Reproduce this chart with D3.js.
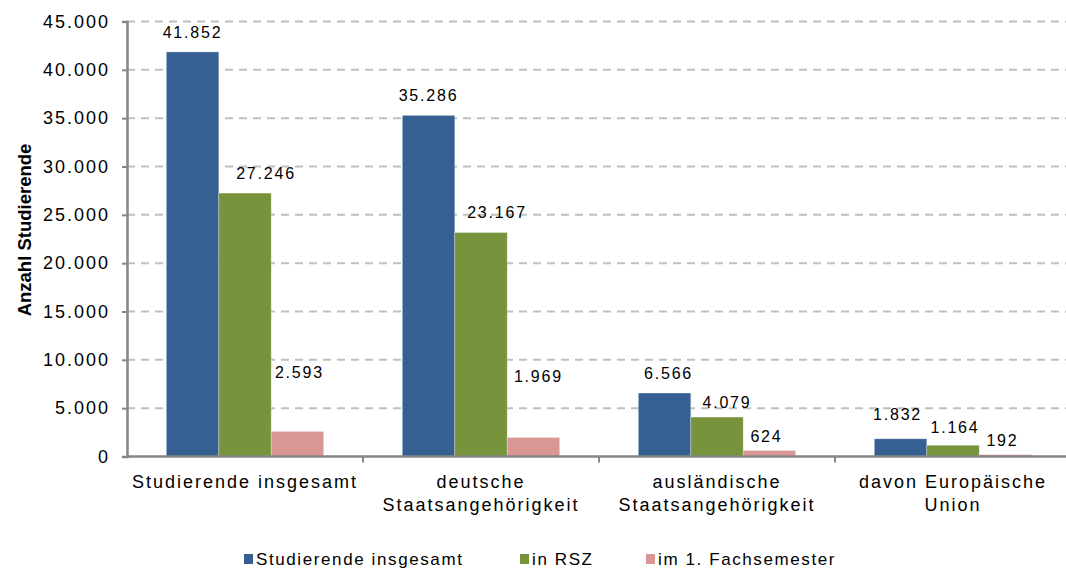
<!DOCTYPE html>
<html>
<head>
<meta charset="utf-8">
<script src="https://cdn.jsdelivr.net/npm/d3@7.9.0/dist/d3.min.js"></script>
<style>
  body { margin: 0; background: #fff; }
  svg { font-family: "Liberation Sans", Arial, sans-serif; display: block; }
</style>
</head>
<body>
<svg id="chart" width="1066" height="570"></svg>
<script>
// categories (x-axis, may wrap to two lines)
const categories = [
  ['Studierende insgesamt'],
  ['deutsche', 'Staatsangehörigkeit'],
  ['ausländische', 'Staatsangehörigkeit'],
  ['davon Europäische', 'Union']
];
const seriesNames = ['Studierende insgesamt', 'in RSZ', 'im 1. Fachsemester'];
const seriesColors = ['#366092', '#77933c', '#d99694'];

// values per series, one per category
const insgesamt = [41852, 35286, 6566, 1832];
const inRSZ = [27246, 23167, 4079, 1164];
const fachsemester = [2593, 1969, 624, 192];

const yTicks = [0, 5000, 10000, 15000, 20000, 25000, 30000, 35000, 40000, 45000];

const svg = d3.select('#chart');
const W = +svg.attr('width');

const fmt = v => d3.format(',')(v).replace(/,/g, '.');

const catKeys = categories.map(c => c.join(' '));
const values = [insgesamt, inRSZ, fachsemester];

// scales
const x0 = d3.scaleBand().domain(catKeys).range([127, 1071]).padding(0);
const x1 = d3.scaleBand().domain(seriesNames).range([0, x0.bandwidth()])
  .paddingInner(0).paddingOuter(0.75);
const y = d3.scaleLinear().domain([0, 45000]).range([456.5, 21.5]);

// gridlines
svg.append('g')
  .selectAll('line')
  .data(yTicks.filter(t => t > 0))
  .join('line')
  .attr('x1', 127).attr('x2', W)
  .attr('y1', d => y(d)).attr('y2', d => y(d))
  .attr('stroke', '#c0c0c0')
  .attr('stroke-width', 2)
  .attr('stroke-dasharray', '8,6');

// bars
const groups = svg.append('g').selectAll('g')
  .data(catKeys)
  .join('g')
  .attr('transform', d => `translate(${x0(d)},0)`);

groups.selectAll('rect')
  .data((c, ci) => seriesNames.map((s, si) => ({ s, si, v: values[si][ci] })))
  .join('rect')
  .attr('x', d => x1(d.s))
  .attr('y', d => y(d.v))
  .attr('width', x1.bandwidth())
  .attr('height', d => y(0) - y(d.v))
  .attr('fill', d => seriesColors[d.si])
  .attr('stroke', '#fff')
  .attr('stroke-opacity', 0.35)
  .attr('stroke-width', 0.8);

// label nudges, as placed in the original (dx, dy in px)
const nudge = [
  [[0, 0], [0, 0], [4, 0], [-3, -4]],
  [[21, 0], [16, 0], [10, 5], [2, 2]],
  [[2, -39], [5, -41], [-3, 6], [-3, 6]]
];

groups.selectAll('text.val')
  .data((c, ci) => seriesNames.map((s, si) => ({ s, si, ci, v: values[si][ci] })))
  .join('text')
  .attr('class', 'val')
  .attr('x', d => x1(d.s) + x1.bandwidth() / 2 + nudge[d.si][d.ci][0])
  .attr('y', d => y(d.v) - 20 + nudge[d.si][d.ci][1])
  .attr('dy', '0.35em')
  .attr('text-anchor', 'middle')
  .attr('font-size', 16)
  .attr('letter-spacing', 1.8)
  .attr('fill', '#000')
  .text(d => fmt(d.v));

// y axis
const yAxis = svg.append('g')
  .attr('transform', 'translate(127,0)')
  .call(d3.axisLeft(y).tickValues(yTicks).tickSize(5).tickPadding(12).tickFormat(fmt));
yAxis.select('.domain').attr('stroke', '#868686').attr('stroke-width', 2.5);
yAxis.selectAll('.tick line').attr('stroke', '#868686').attr('stroke-width', 2);
yAxis.selectAll('.tick text')
  .attr('font-size', 18)
  .attr('letter-spacing', 2)
  .attr('font-family', '"Liberation Sans", Arial, sans-serif')
  .attr('fill', '#000');

// x axis
const xAxis = svg.append('g')
  .attr('transform', `translate(0,${y(0)})`);
xAxis.append('line')
  .attr('x1', 127).attr('x2', W)
  .attr('stroke', '#868686').attr('stroke-width', 2.5);
xAxis.selectAll('line.tk')
  .data(catKeys.slice(1))
  .join('line')
  .attr('class', 'tk')
  .attr('x1', d => x0(d)).attr('x2', d => x0(d))
  .attr('y1', 0).attr('y2', 6)
  .attr('stroke', '#868686').attr('stroke-width', 2);

const catLabels = xAxis.selectAll('text.cat')
  .data(categories)
  .join('text')
  .attr('class', 'cat')
  .attr('x', (d, i) => x0(catKeys[i]) + x0.bandwidth() / 2)
  .attr('y', 25)
  .attr('text-anchor', 'middle')
  .attr('font-size', 18)
  .attr('letter-spacing', 2)
  .attr('fill', '#000');
catLabels.selectAll('tspan')
  .data(d => d)
  .join('tspan')
  .attr('x', function () { return this.parentNode.getAttribute('x'); })
  .attr('dy', (d, i) => i === 0 ? '0.35em' : 23)
  .text(d => d);

// y title
svg.append('text')
  .attr('transform', 'translate(25,230) rotate(-90)')
  .attr('text-anchor', 'middle')
  .attr('dy', '0.35em')
  .attr('font-size', 18.5)
  .attr('font-weight', 'bold')
  .attr('fill', '#000')
  .text('Anzahl Studierende');

// legend
const legendX = [244, 520, 646];
const legend = svg.append('g').attr('transform', 'translate(0,559)');
const li = legend.selectAll('g')
  .data(seriesNames)
  .join('g')
  .attr('transform', (d, i) => `translate(${legendX[i]},0)`);
li.append('rect')
  .attr('x', 0).attr('y', -5)
  .attr('width', 9).attr('height', 10)
  .attr('fill', (d, i) => seriesColors[i]);
li.append('text')
  .attr('x', 12)
  .attr('dy', '0.35em')
  .attr('font-size', 17)
  .attr('letter-spacing', 1.6)
  .attr('fill', '#000')
  .text(d => d);
</script>
</body>
</html>
